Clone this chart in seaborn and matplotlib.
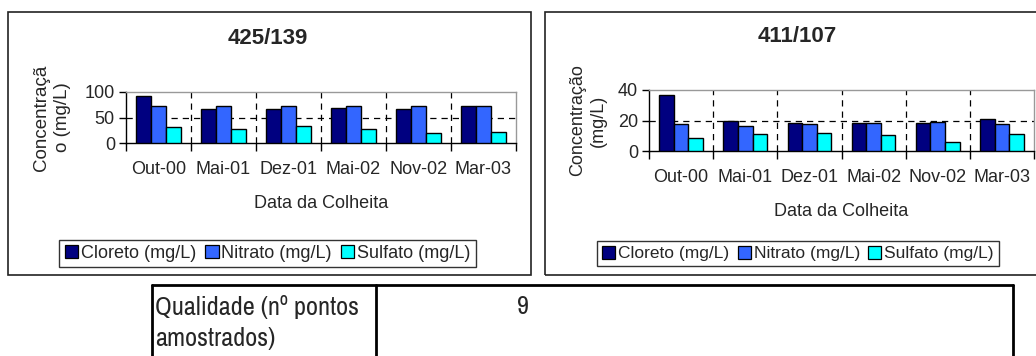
import numpy as np
import pandas as pd
import seaborn as sns
import matplotlib
matplotlib.use("Agg")
import matplotlib.pyplot as plt
from matplotlib import font_manager
from matplotlib.patches import Rectangle, Patch
from matplotlib.lines import Line2D

# Harvest dates
datas = ["Out-00", "Mai-01", "Dez-01", "Mai-02", "Nov-02", "Mar-03"]
ions = ["Cloreto (mg/L)", "Nitrato (mg/L)", "Sulfato (mg/L)"]

# Well 425/139
cloreto_425 = [92, 67, 67, 69, 67, 72]
nitrato_425 = [72, 72, 72, 72, 72, 72]
sulfato_425 = [31, 27.5, 33, 27.5, 19.5, 22]

# Well 411/107
cloreto_411 = [37, 19.5, 18.5, 18.5, 18.5, 21]
nitrato_411 = [17.5, 16.5, 17.5, 18.5, 19.3, 17.5]
sulfato_411 = [8.5, 11, 12, 10.3, 5.7, 11]

cores = ["#000080", "#3366FF", "#00FFFF"]

W, H = 1036, 356
sns.set_theme(style="white")
plt.rcParams["font.family"] = ["Liberation Sans", "DejaVu Sans"]
fig = plt.figure(figsize=(W / 100, H / 100), dpi=100)
fig.patch.set_facecolor("white")


def fonte_estreita():
    """Pick the narrowest regular sans face available for the table text."""
    rank = {"ultra-condensed": 0, "extra-condensed": 1, "condensed": 2, "semi-condensed": 3}
    best = None
    for f in font_manager.fontManager.ttflist:
        if f.style != "normal" or f.weight not in (400, "normal", "regular"):
            continue
        nome = f.name.lower()
        if "mono" in nome or "serif" in nome and "sans" not in nome:
            continue
        if "narrow" in nome:
            r = 1.5
        elif str(f.stretch) in rank:
            r = rank[str(f.stretch)]
        elif "condensed" in nome or "condensed" in f.fname.lower():
            r = 2.5
        else:
            continue
        if best is None or r < best[0]:
            best = (r, f.fname)
    if best is None:
        return font_manager.FontProperties(family=["Liberation Sans", "DejaVu Sans"])
    return font_manager.FontProperties(fname=best[1])


def px_box(x0, y0, x1, y1):
    return [x0 / W, 1 - y1 / H, (x1 - x0) / W, (y1 - y0) / H]


def painel(ax_rect, frame, titulo, ylabel, cl, ni, su, ymax, ystep, title_xy, leg_rect,
           ypad, ysize, yspacing, legsize):
    fx0, fy0, fx1, fy1 = frame
    fig.add_artist(Rectangle((fx0 / W, 1 - fy1 / H), (fx1 - fx0) / W, (fy1 - fy0) / H,
                             transform=fig.transFigure, fill=False, edgecolor="#222222",
                             linewidth=1.2))
    ax = fig.add_axes(px_box(*ax_rect))
    df = pd.DataFrame({
        "Data": datas * 3,
        "Ion": [ions[0]] * 6 + [ions[1]] * 6 + [ions[2]] * 6,
        "Valor": list(cl) + list(ni) + list(su),
    })
    sns.barplot(data=df, x="Data", y="Valor", hue="Ion", palette=cores, width=0.68,
                gap=0, edgecolor="black", linewidth=1.0, saturation=1, legend=False, ax=ax,
                zorder=3)
    ax.set_xlim(-0.5, len(datas) - 0.5)
    ax.set_ylim(0, ymax)
    ax.set_yticks(np.arange(0, ymax + 1, ystep))
    ax.set_xticks(np.arange(-0.5, len(datas), 1.0), minor=True)
    ax.tick_params(axis="x", which="major", length=0, labelsize=13, pad=13)
    ax.tick_params(axis="x", which="minor", length=6, width=1, color="black", direction="out",
                   bottom=True)
    ax.tick_params(axis="y", length=5, width=1, color="black", direction="out", left=True,
                   labelsize=13, pad=3)
    for yv in np.arange(ystep, ymax, ystep):
        ax.axhline(yv, color="black", linestyle=(0, (5, 4)), linewidth=0.9, zorder=1)
    for xv in np.arange(0.5, len(datas) - 0.5, 1.0):
        ax.axvline(xv, color="black", linestyle=(0, (5, 4)), linewidth=0.9, zorder=1)
    for s in ["top", "right"]:
        ax.spines[s].set_color("#999999")
        ax.spines[s].set_linewidth(1.0)
    for s in ["left", "bottom"]:
        ax.spines[s].set_color("black")
        ax.spines[s].set_linewidth(1.0)
    ax.set_xlabel("Data da Colheita", fontsize=13, labelpad=12)
    ax.set_ylabel(ylabel, fontsize=ysize, labelpad=ypad, linespacing=yspacing)
    fig.text(title_xy[0] / W, 1 - title_xy[1] / H, titulo, ha="center", va="center",
             fontsize=16, fontweight="bold")
    handles = [Patch(facecolor=c, edgecolor="black", linewidth=0.9) for c in cores]
    lx0, ly0, lx1, ly1 = leg_rect
    leg = fig.legend(handles, ions, ncol=3, loc="center",
                     bbox_to_anchor=((lx0 + lx1) / 2 / W, 1 - (ly0 + ly1) / 2 / H),
                     fontsize=legsize, frameon=True, fancybox=False, handlelength=0.75,
                     handleheight=0.75, handletextpad=0.15, columnspacing=0.5,
                     borderpad=0.3, borderaxespad=0)
    leg.get_frame().set_edgecolor("black")
    leg.get_frame().set_linewidth(1.0)
    return ax


painel((126, 92, 516, 143), (8, 12, 531, 275), "425/139", "Concentraçã\no (mg/L)",
       cloreto_425, nitrato_425, sulfato_425, 100, 50, (268, 38), (57, 237, 478, 270),
       10, 13.5, 1.3, 13)
painel((649, 90, 1034, 151), (545, 12, 1040, 275), "411/107", "Concentração\n(mg/L)",
       cloreto_411, nitrato_411, sulfato_411, 40, 20, (797, 37), (598, 240, 998, 267),
       8, 13, 1.25, 12.5)

# Summary table below the charts
tab_lines = [
    ((152, 285), (1013, 285)),
    ((152, 285), (152, 356)),
    ((376, 285), (376, 356)),
    ((1013, 285), (1013, 356)),
]
for (x0, y0), (x1, y1) in tab_lines:
    fig.add_artist(Line2D([x0 / W, x1 / W], [1 - y0 / H, 1 - y1 / H], transform=fig.transFigure,
                          color="black", linewidth=2.0))

fp = fonte_estreita()
fp.set_size(19)
fig.text(155 / W, 1 - 307 / H, "Qualidade (nº pontos", ha="left", va="center",
         fontproperties=fp)
fig.text(155 / W, 1 - 338 / H, "amostrados)", ha="left", va="center", fontproperties=fp)
fig.text(523 / W, 1 - 307 / H, "9", ha="center", va="center", fontproperties=fp)

fig.savefig("out.png", dpi=100, facecolor="white")
